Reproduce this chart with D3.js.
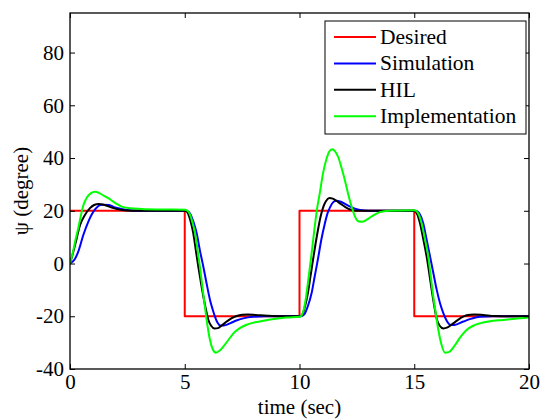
<!DOCTYPE html>
<html>
<head>
<meta charset="utf-8">
<script src="https://cdn.jsdelivr.net/npm/d3@7/dist/d3.min.js"></script>
<style>
  html, body { margin: 0; padding: 0; background: #fff; }
  svg { display: block; }
  text { font-family: "Liberation Serif", "Times New Roman", serif; fill: #000; }
</style>
</head>
<body>
<svg id="chart" width="542" height="419"></svg>
<script>
// Heading response: [time (s), psi (deg)]
const desired = [[0,20],[5,20],[5,-20],[10,-20],[10,20],[15,20],[15,-20],[20,-20]];

const simulation = [[0,0],[0.2,1.5],[0.36,4.5],[0.58,10.8],[0.8,15.9],[1.09,20.5],[1.38,22.3],[1.7,22.2],[1.96,21.3],[2.3,20.6],[2.6,20.2],[3.2,20],[5.0,20],[5.1,19.9],[5.23,19],[5.37,16],[5.52,11.5],[5.66,5],[5.81,-1.2],[5.95,-7.5],[6.1,-13.8],[6.22,-17.5],[6.32,-20.2],[6.43,-22.5],[6.54,-23.5],[6.7,-23.5],[6.97,-22.7],[7.25,-21.6],[7.55,-20.8],[7.98,-20.2],[8.5,-20],[10.0,-20],[10.1,-19.9],[10.23,-19],[10.37,-16],[10.52,-11.5],[10.66,-5],[10.81,2],[10.95,9],[11.1,15],[11.22,19],[11.34,21.5],[11.46,23.2],[11.6,23.8],[11.8,23.4],[12.06,22.2],[12.35,21],[12.64,20.3],[13.0,20],[15.0,20],[15.1,19.9],[15.22,19],[15.39,15.3],[15.54,9],[15.69,2.6],[15.84,-4],[15.98,-10],[16.12,-15],[16.27,-18.9],[16.42,-21.8],[16.56,-23.2],[16.75,-23.3],[17.14,-22],[17.5,-20.9],[17.86,-20.2],[18.4,-20],[20,-20]];

const hil = [[0,0],[0.1,3],[0.22,7],[0.44,14.6],[0.65,18.4],[0.87,21],[1.05,22.2],[1.25,22.6],[1.5,22.2],[1.82,21.2],[2.25,20.3],[2.7,20],[5.0,20],[5.08,19.8],[5.15,18.8],[5.26,15.8],[5.37,11.5],[5.48,5.2],[5.59,-1.2],[5.7,-7],[5.81,-12.5],[5.92,-17.3],[6.03,-21.4],[6.15,-23.6],[6.3,-24.6],[6.45,-24.5],[6.6,-23.6],[6.83,-22],[7.05,-20.7],[7.26,-19.9],[7.5,-19.4],[7.75,-19.3],[8.1,-19.5],[8.6,-19.8],[9.2,-20],[10.0,-20],[10.08,-19.8],[10.15,-18.8],[10.26,-15.5],[10.37,-11],[10.48,-4.8],[10.59,1.5],[10.7,7.5],[10.81,13],[10.92,17.8],[11.03,21.3],[11.15,23.6],[11.3,24.8],[11.45,24.6],[11.6,23.8],[11.76,22.8],[12.0,21.4],[12.2,20.5],[12.5,20],[15,20],[15.06,19.6],[15.14,18.5],[15.25,15.3],[15.4,9],[15.54,2.6],[15.65,-3.5],[15.76,-10],[15.87,-16],[15.98,-21],[16.1,-23.5],[16.27,-24.6],[16.45,-24.2],[16.7,-22.7],[17.0,-20.8],[17.28,-19.6],[17.6,-19.3],[18.0,-19.5],[18.5,-19.9],[19.2,-20],[20,-20]];

const implementation = [[0,0],[0.12,4],[0.24,9],[0.36,13.4],[0.47,18],[0.58,22],[0.72,24.8],[0.9,26.6],[1.09,27.2],[1.3,26.6],[1.5,25.6],[1.67,24.8],[1.9,23.4],[2.1,22.3],[2.25,21.6],[2.6,21],[3.12,20.7],[4.0,20.5],[5.0,20.4],[5.12,20],[5.23,18.5],[5.34,15.5],[5.45,11.5],[5.55,5.5],[5.66,-1.2],[5.77,-9],[5.88,-16.4],[5.99,-23.5],[6.1,-29],[6.22,-32.5],[6.36,-33.8],[6.5,-33.2],[6.68,-31.5],[6.9,-29],[7.12,-26.5],[7.4,-24.5],[7.7,-23.2],[8.05,-22.3],[8.42,-21.7],[8.9,-21],[9.44,-20.5],[10,-20.2],[10.08,-19.8],[10.17,-18],[10.28,-13],[10.4,-5],[10.53,4],[10.65,13],[10.77,21],[10.89,27],[11.02,34],[11.18,39.8],[11.3,42.5],[11.42,43.3],[11.55,42.5],[11.69,40.3],[11.84,36],[11.98,31.5],[12.13,26],[12.27,21.6],[12.42,17.8],[12.56,16],[12.72,15.8],[12.93,16.6],[13.2,18.2],[13.51,19.5],[13.9,20],[15,20.2],[15.1,19.8],[15.2,18.5],[15.32,15.3],[15.47,9],[15.61,2.6],[15.72,-5],[15.83,-12.6],[15.94,-19],[16.05,-25.2],[16.18,-30.5],[16.34,-33.8],[16.5,-33.6],[16.78,-30.9],[17.0,-28],[17.28,-25.2],[17.57,-23.6],[17.86,-22.7],[18.3,-21.9],[18.88,-21.4],[19.4,-20.9],[19.9,-20.6],[20,-20.5]];

const xTicks = [0, 5, 10, 15, 20];
const yTicks = [-40, -20, 0, 20, 40, 60, 80];
const seriesNames = ["Desired", "Simulation", "HIL", "Implementation"];
const seriesColors = ["#ff0000", "#0000ff", "#000000", "#00ff00"];

const W = 542, H = 419;
const margin = { top: 13, right: 13, bottom: 50, left: 70 };
const iw = W - margin.left - margin.right;
const ih = H - margin.top - margin.bottom;

const svg = d3.select("#chart");
const g = svg.append("g").attr("transform", `translate(${margin.left},${margin.top})`);

const x = d3.scaleLinear().domain([0, 20]).range([0, iw]);
const y = d3.scaleLinear().domain([-40, 95]).range([ih, 0]);

g.append("clipPath").attr("id", "plotclip")
  .append("rect").attr("x", 0).attr("y", 0).attr("width", iw).attr("height", ih);

const plot = g.append("g").attr("clip-path", "url(#plotclip)");

const stepLine = d3.line().x(d => x(d[0])).y(d => y(d[1]));
const smoothLine = d3.line().x(d => x(d[0])).y(d => y(d[1])).curve(d3.curveMonotoneX);

const data = [desired, simulation, hil, implementation];
data.forEach((s, i) => {
  plot.append("path")
    .datum(s)
    .attr("fill", "none")
    .attr("stroke", seriesColors[i])
    .attr("stroke-width", 2)
    .attr("stroke-linejoin", "round")
    .attr("d", i === 0 ? stepLine : smoothLine);
});

// Axes with inward ticks on all four sides (boxed frame); plain hyphen for negatives
const tickLen = 5;
const fontSize = 21;
const plainFmt = d => String(d);

const axB = g.append("g").attr("transform", `translate(0,${ih})`)
  .call(d3.axisBottom(x).tickValues(xTicks).tickFormat(plainFmt).tickSizeInner(-tickLen).tickSizeOuter(0).tickPadding(10));
const axT = g.append("g")
  .call(d3.axisTop(x).tickValues(xTicks).tickSizeInner(-tickLen).tickSizeOuter(0).tickFormat(""));
const axL = g.append("g")
  .call(d3.axisLeft(y).tickValues(yTicks).tickFormat(plainFmt).tickSizeInner(-tickLen).tickSizeOuter(0).tickPadding(6));
const axR = g.append("g").attr("transform", `translate(${iw},0)`)
  .call(d3.axisRight(y).tickValues(yTicks).tickSizeInner(-tickLen).tickSizeOuter(0).tickFormat(""));

[axB, axT, axL, axR].forEach(a => {
  a.selectAll(".domain").remove();
  a.selectAll("line").attr("stroke", "#000").attr("stroke-width", 1);
  a.selectAll("text").style("font-family", '"Liberation Serif", "Times New Roman", serif')
    .style("font-size", fontSize + "px").attr("fill", "#000");
});
axB.selectAll("text").attr("dy", "0.71em").attr("y", 5);

// Frame
g.append("rect").attr("x", 0).attr("y", 0).attr("width", iw).attr("height", ih)
  .attr("fill", "none").attr("stroke", "#000").attr("stroke-width", 1.3);

// Axis titles
svg.append("text")
  .attr("x", margin.left + iw / 2).attr("y", 414)
  .attr("text-anchor", "middle")
  .style("font-size", fontSize + "px")
  .text("time (sec)");

svg.append("text")
  .attr("transform", `translate(28,${margin.top + ih / 2}) rotate(-90)`)
  .attr("text-anchor", "middle")
  .style("font-size", fontSize + "px")
  .text("ψ (degree)");

// Legend
const legend = svg.append("g");
legend.append("rect")
  .attr("x", 325).attr("y", 21).attr("width", 201).attr("height", 113)
  .attr("fill", "#fff").attr("stroke", "#000").attr("stroke-width", 1);

seriesNames.forEach((name, i) => {
  const cy = 37 + i * 26.4;
  legend.append("line")
    .attr("x1", 334).attr("x2", 376).attr("y1", cy).attr("y2", cy)
    .attr("stroke", seriesColors[i]).attr("stroke-width", 2);
  legend.append("text")
    .attr("x", 380).attr("y", cy + 7)
    .style("font-size", "21.5px")
    .text(name);
});
</script>
</body>
</html>
